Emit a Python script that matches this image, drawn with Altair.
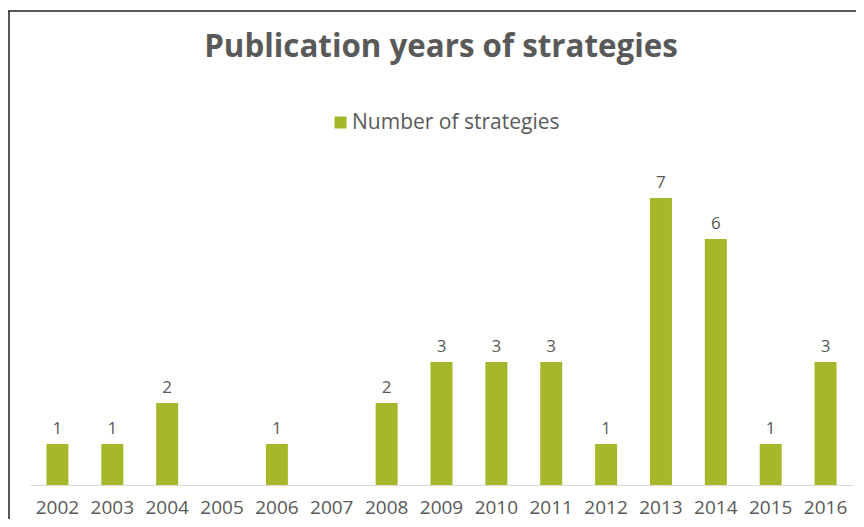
import altair as alt
import pandas as pd

years = [str(y) for y in range(2002, 2017)]
counts = [1, 1, 2, 0, 1, 0, 2, 3, 3, 3, 1, 7, 6, 1, 3]
series_name = "Number of strategies"
title_text = "Publication years of strategies"

GREY = "#595959"
GREEN = "#A6B82A"
FONT = "Open Sans"

df = pd.DataFrame({"year": years, "count": counts, "series": series_name})
label_df = df[df["count"] > 0]
frame_df = pd.DataFrame({"k": [0]})
title_df = pd.DataFrame({"t": [title_text]})

x_enc = alt.X(
    "year:N",
    sort=years,
    scale=alt.Scale(paddingInner=0.6, paddingOuter=0.3),
    axis=alt.Axis(
        title=None, labelAngle=0, ticks=False, tickSize=0, labelPadding=28,
        labelFontSize=19, labelColor=GREY, labelFont=FONT,
        labelBaseline="alphabetic", domainColor="#D9D9D9", domainWidth=1.2,
        grid=False,
    ),
)
y_enc = alt.Y("count:Q", scale=alt.Scale(domain=[0, 9.927], nice=False), axis=None)

bars = alt.Chart(df).mark_bar(size=22).encode(
    x=x_enc,
    y=y_enc,
    color=alt.Color(
        "series:N",
        scale=alt.Scale(range=[GREEN]),
        legend=alt.Legend(
            title=None, orient="none", legendX=300, legendY=34,
            symbolType="square", symbolSize=144, symbolStrokeWidth=0,
            labelFontSize=21, labelFont=FONT, labelColor=GREY,
            labelOffset=1, padding=0, labelLimit=0,
        ),
    ),
)

labels = alt.Chart(label_df).mark_text(
    dy=-10, baseline="alphabetic", fontSize=17, font=FONT, color=GREY
).encode(x=alt.X("year:N", sort=years), y=y_enc, text="count:Q")

title = alt.Chart(title_df).mark_text(
    fontSize=31.3, font=FONT, fontWeight="bold", color=GREY,
    align="center", baseline="alphabetic",
).encode(x=alt.value(411), y=alt.value(-21), text="t:N")

frame_top = alt.Chart(frame_df).mark_rule(color="#222222", strokeWidth=1.5).encode(
    x=alt.value(-22), x2=alt.value(826), y=alt.value(-67)
)
frame_left = alt.Chart(frame_df).mark_rule(color="#222222", strokeWidth=1.5).encode(
    x=alt.value(-21), y=alt.value(-67), y2=alt.value(441)
)

chart = (
    alt.layer(bars, labels, title, frame_top, frame_left)
    .properties(
        width=823,
        height=407,
        padding={"left": 22, "right": 3, "top": 70, "bottom": 34},
        autosize=alt.AutoSizeParams(type="none"),
        background="white",
    )
    .configure_view(stroke=None)
)

chart.save("out.html", embed_options={"renderer": "svg", "actions": False})
